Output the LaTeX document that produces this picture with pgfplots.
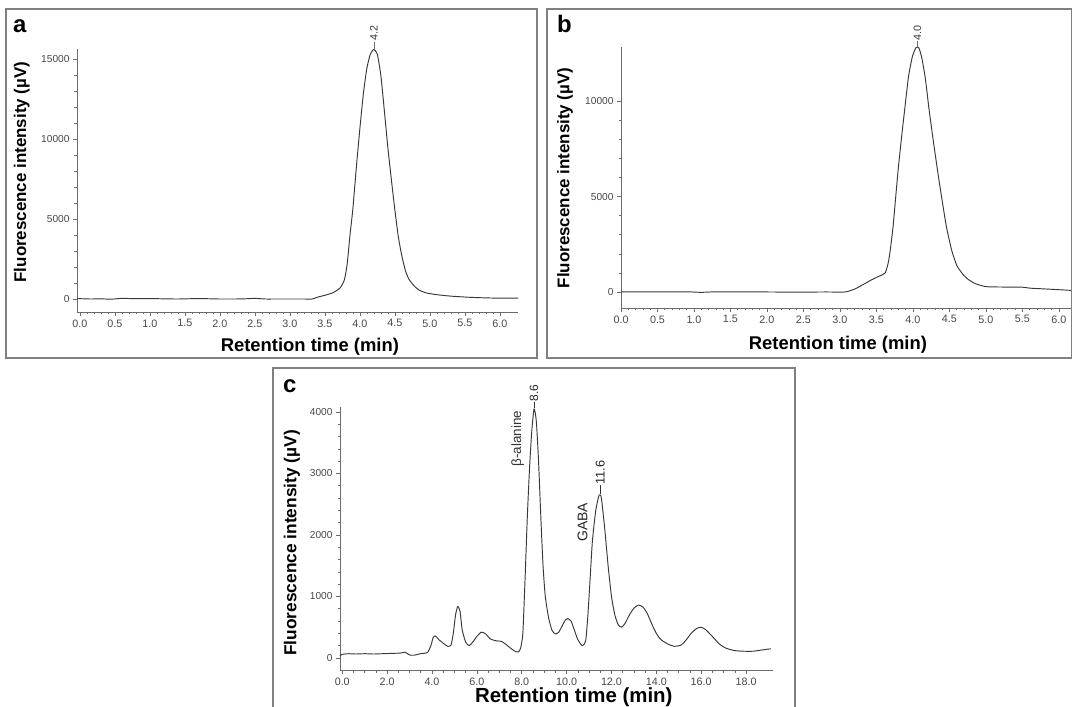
\documentclass[border=0pt]{standalone}
\usepackage{fontspec}
\setmainfont{Liberation Sans}
\usepackage{pgfplots}
\pgfplotsset{compat=1.18}
\definecolor{axgray}{gray}{0.42}
\definecolor{curvecol}{gray}{0.22}
\definecolor{framegray}{gray}{0.5}
\pgfplotsset{
  chrom/.style={
    scale only axis,
    anchor=south west,
    axis lines=left,
    axis line style={-, axgray, line width=0.8bp},
    tick style={axgray, line width=0.6bp},
    tick align=outside,
    major tick length=4bp,
    minor tick length=2.5bp,
    /pgf/number format/assume math mode=true,
    tick label style={text=black!72},
    xticklabel style={font=\fontsize{10.8}{11}\selectfont, /pgf/number format/.cd, fixed, fixed zerofill, precision=1},
    yticklabel style={font=\fontsize{10.2}{11}\selectfont, /pgf/number format/.cd, fixed, 1000 sep={}},
    scaled ticks=false,
    xlabel style={font=\bfseries\fontsize{18.5}{20}\selectfont, anchor=center},
    ylabel style={font=\bfseries\fontsize{17}{18}\selectfont, anchor=center},
    clip=false,
  },
  curvestyle/.style={curvecol, line width=0.95bp, line join=round, no markers, smooth, tension=0.35},
}
\tikzset{peaklab/.style={rotate=90, anchor=west, inner sep=0.5bp, text=black!78}}
\begin{document}
\begin{tikzpicture}
\useasboundingbox (0,0) rectangle (1072bp,707bp);

% ---------------- panel a ----------------
\begin{axis}[chrom, at={(77bp,395bp)}, width=441bp, height=263bp,
  xmin=-0.04, xmax=6.26, ymin=-812, ymax=15625,
  xtick={0,0.5,1,1.5,2,2.5,3,3.5,4,4.5,5,5.5,6}, minor x tick num=4,
  ytick={0,5000,10000,15000}, minor y tick num=4,
  xlabel={Retention time (min)}, ylabel={Fluorescence intensity (µV)},
  xlabel style={at={(axis description cs:0.528,-0.133)}},
  ylabel style={at={(axis description cs:-0.125,0.532)}},
]
\addplot[curvestyle] coordinates {
(-0.04,10) (0,20) (0.15,0) (0.3,10) (0.45,-10) (0.6,40) (0.8,20) (1.0,30) (1.2,10) (1.4,0) (1.6,20) (1.8,20) (2.0,0) (2.2,0) (2.35,10) (2.5,40) (2.65,0) (2.8,0) (3.0,0) (3.2,0) (3.32,0)
(3.4,120) (3.5,230) (3.62,400) (3.72,700) (3.78,1200) (3.82,2200) (3.86,4000) (3.9,5600) (3.95,8200) (4.0,10600) (4.05,12800) (4.1,14400) (4.15,15300) (4.2,15600) (4.25,15300) (4.3,14000) (4.35,11800) (4.4,9500) (4.45,7500) (4.5,5600) (4.55,3900) (4.6,2700) (4.65,1800) (4.7,1250) (4.78,800) (4.85,550) (4.95,380) (5.1,270) (5.3,180) (5.6,100) (5.9,60) (6.26,50)
};
\draw[axgray, line width=0.6bp] (axis cs:4.2,15650) -- ([yshift=7bp]axis cs:4.2,15650)
  node[peaklab, font=\fontsize{10.8}{11}\selectfont]{4.2};
\end{axis}

% ---------------- panel b ----------------
\begin{axis}[chrom, at={(621bp,399bp)}, width=451bp, height=261bp,
  xmin=0, xmax=6.18, ymin=-840, ymax=12840,
  xtick={0,0.5,1,1.5,2,2.5,3,3.5,4,4.5,5,5.5,6}, minor x tick num=4,
  ytick={0,5000,10000}, minor y tick num=4,
  xlabel={Retention time (min)}, ylabel={Fluorescence intensity (µV)},
  xlabel style={at={(axis description cs:0.481,-0.142)}},
  ylabel style={at={(axis description cs:-0.124,0.498)}},
]
\addplot[curvestyle] coordinates {
(0,0) (0.3,10) (0.6,0) (0.9,10) (1.1,-20) (1.3,10) (1.6,0) (2.0,0) (2.4,-10) (2.8,0) (3.07,0)
(3.2,150) (3.3,350) (3.44,650) (3.55,850) (3.62,1000) (3.66,1500) (3.69,2200) (3.73,3500) (3.76,4800) (3.8,6500) (3.85,8300) (3.9,10000) (3.94,11300) (3.99,12300) (4.04,12800) (4.08,12800) (4.12,12300) (4.17,11200) (4.22,9600) (4.28,7900) (4.34,6300) (4.4,4800) (4.46,3400) (4.53,2200) (4.6,1400) (4.68,950) (4.76,650) (4.86,430) (5.0,280) (5.2,260) (5.5,250) (5.6,200) (5.75,170) (5.95,130) (6.18,80)
};
\draw[axgray, line width=0.6bp] (axis cs:4.06,12850) -- ([yshift=6bp]axis cs:4.06,12850)
  node[peaklab, font=\fontsize{10.8}{11}\selectfont]{4.0};
\end{axis}

% ---------------- panel c ----------------
\begin{axis}[chrom, at={(340bp,37bp)}, width=433bp, height=263bp,
  xmin=-0.1, xmax=19.2, ymin=-195, ymax=4080,
  xtick={0,2,4,6,8,10,12,14,16,18}, minor x tick num=3,
  ytick={0,1000,2000,3000,4000}, minor y tick num=4,
  xlabel={Retention time (min)}, ylabel={Fluorescence intensity (µV)},
  xlabel style={at={(axis description cs:0.54,-0.103)}, font=\bfseries\fontsize{20.5}{22}\selectfont},
  ylabel style={at={(axis description cs:-0.111,0.483)}, font=\bfseries\fontsize{17.4}{18}\selectfont},
]
\addplot[curvestyle] coordinates {
(-0.1,30) (0.0,60) (0.3,70) (0.6,65) (1.0,70) (1.4,65) (1.8,70) (2.2,75) (2.6,80) (2.8,95) (3.0,50) (3.2,45) (3.5,70) (3.8,90)
(3.95,200) (4.05,330) (4.15,360) (4.3,300) (4.5,240) (4.7,190) (4.85,210) (4.95,400) (5.05,700) (5.15,840) (5.25,760) (5.35,450) (5.5,260) (5.65,200) (5.8,250) (6.0,350) (6.2,420) (6.4,390) (6.6,310) (6.85,280) (7.1,270) (7.3,220) (7.5,160) (7.7,110) (7.85,100)
(7.95,160) (8.05,400) (8.15,1300) (8.25,2300) (8.35,3100) (8.45,3700) (8.55,4050) (8.65,3850) (8.75,3200) (8.85,2300) (8.95,1500) (9.05,1000) (9.2,650) (9.35,450) (9.5,390) (9.65,420) (9.8,520) (9.95,620) (10.05,640) (10.2,600) (10.35,450) (10.5,300) (10.7,200)
(10.85,280) (10.95,700) (11.05,1300) (11.15,1900) (11.3,2400) (11.45,2650) (11.55,2600) (11.7,2100) (11.85,1500) (12.0,1000) (12.15,700) (12.3,540) (12.45,500) (12.6,560) (12.8,700) (13.0,810) (13.2,860) (13.4,830) (13.6,720) (13.8,550) (14.0,400) (14.2,300) (14.5,230) (14.8,190) (15.1,210) (15.3,280) (15.55,400) (15.8,480) (16.0,500) (16.2,460) (16.5,350) (16.8,230) (17.1,160) (17.5,120) (17.9,110) (18.3,110) (18.7,130) (19.1,150)
};
\draw[black!80, line width=0.6bp] (axis cs:8.55,4060) -- ([yshift=6bp]axis cs:8.55,4060)
  node[peaklab, font=\fontsize{12}{12}\selectfont, text=black!85]{8.6};
\draw[black!80, line width=0.6bp] (axis cs:11.5,2660) -- ([yshift=9bp]axis cs:11.5,2660)
  node[peaklab, font=\fontsize{12.8}{13}\selectfont, text=black!85]{11.6};
\node[rotate=90, inner sep=0, font=\fontsize{13.5}{14}\selectfont, text=black!80] at (axis cs:7.82,3567) {β-alanine};
\node[rotate=90, inner sep=0, font=\fontsize{14}{14}\selectfont, text=black!85] at (axis cs:10.71,2207) {GABA};
\end{axis}

% ---------------- frames and panel letters ----------------
\draw[framegray, line width=1.4bp] (6bp,349bp) rectangle (537bp,698bp);
\draw[framegray, line width=1.4bp] (547bp,349bp) rectangle (1071.3bp,698bp);
\draw[framegray, line width=1.4bp] (273bp,-5bp) rectangle (795bp,339bp);
\node[anchor=base west, inner sep=0, font=\bfseries\fontsize{24}{24}\selectfont] at (13bp,674bp) {a};
\node[anchor=base west, inner sep=0, font=\bfseries\fontsize{24}{24}\selectfont] at (557bp,674bp) {b};
\node[anchor=base west, inner sep=0, font=\bfseries\fontsize{24}{24}\selectfont] at (283bp,314bp) {c};
\end{tikzpicture}
\end{document}
